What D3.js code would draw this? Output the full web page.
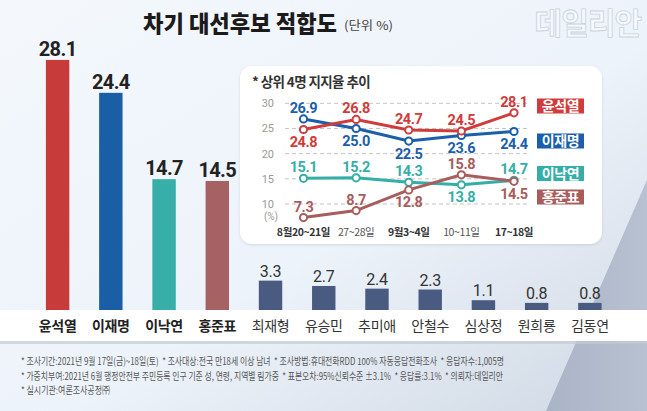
<!DOCTYPE html>
<html><head><meta charset="utf-8">
<script src="https://cdn.jsdelivr.net/npm/d3@7"></script>
<style>
html,body{margin:0;padding:0;background:#eef4fb;}
svg{display:block;}
</style></head>
<body>
<script>
// ---- data ----
const candidates = ["윤석열","이재명","이낙연","홍준표","최재형","유승민","추미애","안철수","심상정","원희룡","김동연"];
const support = [28.1,24.4,14.7,14.5,3.3,2.7,2.4,2.3,1.1,0.8,0.8];
const barColors = ["#c73b3b","#1a5fa6","#38aea9","#a66262","#4a5b82","#4a5b82","#4a5b82","#4a5b82","#4a5b82","#4a5b82","#4a5b82"];

const trendDates = ["8월20~21일","27~28일","9월3~4일","10~11일","17~18일"];
const trendBold = [true,false,true,false,true];
const trendNames = ["윤석열","이재명","이낙연","홍준표"];
const trendYoon = [24.8,26.8,24.7,24.5,28.1];
const trendLee = [26.9,25.0,22.5,23.6,24.4];
const trendLeeNY = [15.1,15.2,14.3,13.8,14.7];
const trendHong = [7.3,8.7,12.8,15.8,14.5];
const trendLabelSide = [
  ["b","a","a","a","a"],
  ["a","b","b","b","b"],
  ["a","a","a","b","a"],
  ["a","a","b","a","b"]
];
const trendColors = ["#d13b3b","#1b5eab","#35aea8","#a85c5c"];
const yTicks = [10,15,20,25,30];

const notes = [
  "* 조사기간:2021년 9월 17일(금)~18일(토)  * 조사대상:전국 만18세 이상 남녀  * 조사방법:휴대전화RDD 100% 자동응답전화조사  * 응답자수:1,005명",
  "* 가중치부여:2021년 6월 행정안전부 주민등록 인구 기준 성, 연령, 지역별 림가중  * 표본오차:95%신뢰수준 ±3.1%  * 응답률:3.1%  * 의뢰자:데일리안",
  "* 실시기관:여론조사공정㈜"
];
const noteWidths = [483, 482, 89];

// ---- setup ----
const W = 647, H = 411;
const KR = "'Noto Sans CJK KR','Noto Sans',sans-serif";
const NUM = "Roboto,'Noto Sans',sans-serif";
const svg = d3.select("body").append("svg").attr("width", W).attr("height", H);
const defs = svg.append("defs");

const bg = defs.append("linearGradient").attr("id","bg").attr("x1","0").attr("y1","0").attr("x2","1").attr("y2","1");
bg.append("stop").attr("offset","0").attr("stop-color","#f4f8fd");
bg.append("stop").attr("offset","0.55").attr("stop-color","#edf3fa");
bg.append("stop").attr("offset","1").attr("stop-color","#cfd8e4");
svg.append("rect").attr("width",W).attr("height",H).attr("fill","url(#bg)");

const bg2 = defs.append("linearGradient").attr("id","bg2").attr("x1","0").attr("y1","0").attr("x2","1").attr("y2","0");
bg2.append("stop").attr("offset","0").attr("stop-color","#aab4c7");
bg2.append("stop").attr("offset","1").attr("stop-color","#b8c1d1");
svg.append("path").attr("d","M647,180 L647,411 L546,411 Z").attr("fill","url(#bg2)");

const f = defs.append("filter").attr("id","sh").attr("x","-10%").attr("y","-10%").attr("width","120%").attr("height","130%");
f.append("feDropShadow").attr("dx",0).attr("dy",1).attr("stdDeviation",1.5).attr("flood-color","#9aa6b8").attr("flood-opacity",0.35);

// title
svg.append("text").attr("x",143).attr("y",32)
  .attr("font-family",KR).attr("font-weight",900).attr("font-size",23)
  .attr("textLength",194).attr("lengthAdjust","spacingAndGlyphs")
  .attr("fill","#1b1b1b").text("차기 대선후보 적합도");
svg.append("text").attr("x",344).attr("y",30)
  .attr("font-family",KR).attr("font-size",12)
  .attr("textLength",49).attr("lengthAdjust","spacingAndGlyphs")
  .attr("fill","#444").text("(단위 %)");

// watermark
svg.append("text").attr("x",641).attr("y",34).attr("text-anchor","end")
  .attr("font-family",KR).attr("font-weight",700).attr("font-size",30).attr("letter-spacing",-1)
  .attr("fill","#f5f8fc").attr("stroke","#c9d3df").attr("stroke-width",0.8).text("데일리안");

// ---- main bars ----
const x = d3.scaleBand().domain(candidates).range([31, 616.5]).paddingInner(0.56).paddingOuter(0.28);
const y = d3.scaleLinear().domain([0, 30]).range([310, 43]);

svg.append("rect").attr("x",0).attr("y",341).attr("width",W).attr("height",3).attr("fill","#c5cad2").attr("opacity",0.7);
svg.append("rect").attr("x",0).attr("y",310).attr("width",W).attr("height",31).attr("fill","#ffffff");

const barG = svg.append("g");
barG.selectAll("rect").data(candidates).join("rect")
  .attr("x", d => x(d)).attr("width", x.bandwidth())
  .attr("y", (d,i) => y(support[i])).attr("height", (d,i) => y(0) - y(support[i]))
  .attr("fill", (d,i) => barColors[i]);

barG.selectAll("text.v").data(candidates).join("text").attr("class","v")
  .attr("x", d => x(d) + x.bandwidth()/2)
  .attr("y", (d,i) => y(support[i]) - 4)
  .attr("text-anchor","middle")
  .attr("font-family",NUM)
  .attr("font-weight",(d,i) => i < 4 ? 700 : 400)
  .attr("font-size",(d,i) => i < 4 ? 20 : 16)
  .attr("letter-spacing",(d,i) => i < 4 ? -0.6 : -0.3)
  .attr("fill",(d,i) => i < 4 ? "#222" : "#333")
  .text((d,i) => support[i].toFixed(1));

barG.selectAll("text.n").data(candidates).join("text").attr("class","n")
  .attr("x", d => x(d) + x.bandwidth()/2)
  .attr("y", 331)
  .attr("text-anchor","middle")
  .attr("font-family",KR)
  .attr("font-weight",(d,i) => i < 4 ? 700 : 400)
  .attr("font-size",14)
  .attr("letter-spacing",-0.3)
  .attr("fill",(d,i) => i < 4 ? "#222" : "#333")
  .text(d => d);

// ---- inset panel ----
svg.append("rect").attr("x",240).attr("y",66).attr("width",362).attr("height",178).attr("rx",12)
  .attr("fill","#ffffff").attr("filter","url(#sh)");
svg.append("text").attr("x",252).attr("y",87)
  .attr("font-family",KR).attr("font-weight",700).attr("font-size",13.5).attr("letter-spacing",-0.6)
  .attr("fill","#333").text("* 상위 4명 지지율 추이");

const tx = d3.scalePoint().domain(trendDates).range([303.5, 514]);
const ty = d3.scaleLinear().domain([10, 30]).range([204, 103.3]);

const grid = svg.append("g");
grid.selectAll("line").data(yTicks).join("line")
  .attr("x1",285).attr("x2",527).attr("y1",d => ty(d)).attr("y2",d => ty(d))
  .attr("stroke","#c4c4c4").attr("stroke-width",1).attr("stroke-dasharray","4,3");
grid.selectAll("text").data(yTicks).join("text")
  .attr("x",274).attr("y",d => ty(d) + 4).attr("text-anchor","end")
  .attr("font-family",NUM).attr("font-size",11).attr("fill","#999").text(d => d);
svg.append("text").attr("x",271).attr("y",220).attr("text-anchor","middle")
  .attr("font-family",NUM).attr("font-size",10).attr("fill","#999").text("(%)");

svg.append("g").selectAll("text").data(trendDates).join("text")
  .attr("x", d => tx(d)).attr("y", 236).attr("text-anchor","middle")
  .attr("font-family",KR).attr("font-size",10.5).attr("letter-spacing",-0.4)
  .attr("font-weight",(d,i) => trendBold[i] ? 700 : 400)
  .attr("fill",(d,i) => trendBold[i] ? "#333" : "#555")
  .text(d => d);

const series = [trendYoon, trendLee, trendLeeNY, trendHong];
const line = d3.line().x((v,i) => tx(trendDates[i])).y(v => ty(v));
const order = [2,3,1,0];
order.forEach(s => {
  const g = svg.append("g");
  g.append("path").datum(series[s]).attr("d", line)
    .attr("fill","none").attr("stroke",trendColors[s]).attr("stroke-width",3);
  g.selectAll("circle").data(series[s]).join("circle")
    .attr("cx",(v,i) => tx(trendDates[i])).attr("cy",v => ty(v)).attr("r",3.6)
    .attr("fill","#fff").attr("stroke",trendColors[s]).attr("stroke-width",2);
});
series.forEach((vals,s) => {
  svg.append("g").selectAll("text").data(vals).join("text")
    .attr("x",(v,i) => tx(trendDates[i]))
    .attr("y",(v,i) => trendLabelSide[s][i] === "a" ? ty(v) - 6 : ty(v) + 17.5)
    .attr("text-anchor","middle")
    .attr("font-family",NUM).attr("font-weight",700).attr("font-size",14.5).attr("letter-spacing",-0.4)
    .attr("fill",trendColors[s])
    .text(v => v.toFixed(1));
});

// legend tags
const legendY = [98.5, 133.5, 166, 189.5];
trendNames.forEach((n,s) => {
  svg.append("rect").attr("x",537).attr("y",legendY[s]).attr("width",47).attr("height",15)
    .attr("fill",trendColors[s]);
  svg.append("text").attr("x",560.5).attr("y",legendY[s] + 12.5).attr("text-anchor","middle")
    .attr("font-family",KR).attr("font-weight",700).attr("font-size",14).attr("letter-spacing",-0.3)
    .attr("fill","#fff").text(n);
});

// ---- footnotes ----
svg.append("g").selectAll("text").data(notes).join("text")
  .attr("x",21).attr("y",(d,i) => 365 + i*14.5)
  .attr("font-family",KR).attr("font-size",9.8)
  .attr("textLength",(d,i) => noteWidths[i]).attr("lengthAdjust","spacingAndGlyphs")
  .attr("fill","#555").attr("xml:space","preserve")
  .text(d => d);
</script>
</body></html>
